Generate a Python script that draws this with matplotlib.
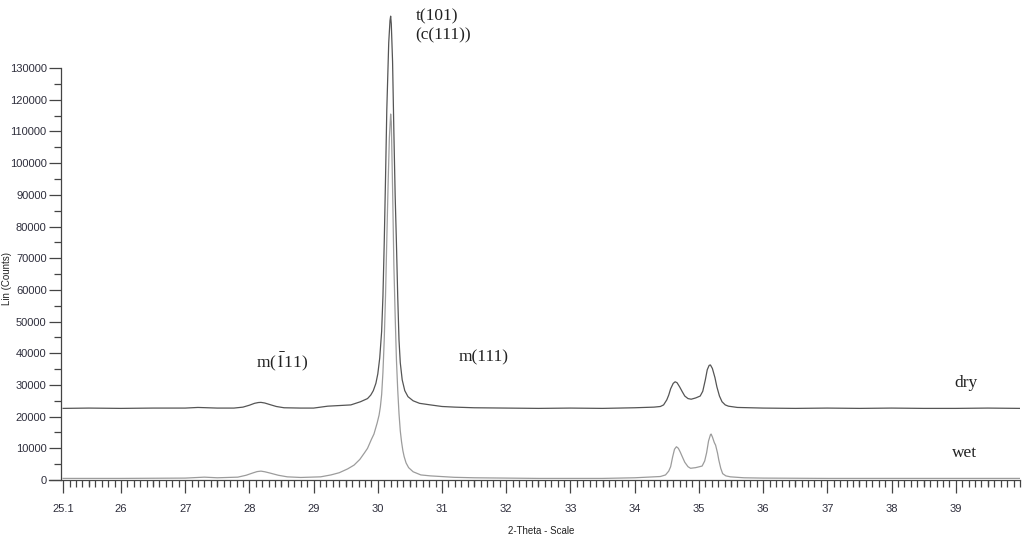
import numpy as np
import matplotlib
matplotlib.use('Agg')
import matplotlib.pyplot as plt
from matplotlib.ticker import FixedLocator

plt.rcParams['font.family'] = ['Liberation Sans', 'DejaVu Sans']
plt.rcParams['mathtext.fontset'] = 'stix'

# 2-theta / counts
two_theta_dry = [25.1, 25.5, 26.0, 26.5, 27.0, 27.2, 27.5, 27.76, 27.9, 28.0, 28.08, 28.14,
                 28.18, 28.24, 28.32, 28.42, 28.54, 28.8, 29.0, 29.22, 29.4, 29.58, 29.73,
                 29.84, 29.89, 29.93, 29.97, 30.00, 30.03, 30.06, 30.08, 30.10, 30.12, 30.14,
                 30.17, 30.19, 30.20, 30.21, 30.23, 30.25, 30.27, 30.29, 30.31, 30.33, 30.35,
                 30.38, 30.42, 30.47, 30.55, 30.65, 30.82, 31.0, 31.2, 31.5, 32.0, 32.5, 33.0,
                 33.5, 34.0, 34.3, 34.40, 34.45, 34.50, 34.53, 34.56, 34.60, 34.63, 34.66,
                 34.70, 34.74, 34.78, 34.83, 34.88, 34.95, 35.02, 35.06, 35.10, 35.13, 35.16,
                 35.18, 35.21, 35.25, 35.28, 35.32, 35.36, 35.41, 35.46, 35.6, 36.0, 36.5,
                 37.0, 37.5, 38.0, 38.5, 39.0, 39.5, 40.0]
counts_dry = [22600, 22700, 22600, 22700, 22700, 22900, 22700, 22700, 23000, 23600, 24200, 24450,
              24500, 24300, 23800, 23200, 22800, 22700, 22700, 23300, 23500, 23700, 24700,
              25700, 26800, 28200, 30500, 33500, 38500, 47000, 58000, 74800, 95000, 116800,
              138000, 145000, 146400, 144000, 132000, 110000, 90000, 74800, 58000, 44200, 37000,
              31600, 28200, 26300, 25000, 24200, 23700, 23200, 23000, 22800, 22700, 22600, 22700,
              22600, 22800, 23000, 23200, 23700, 25300, 26800, 28800, 30500, 31000, 30700,
              29400, 27900, 26500, 25700, 25500, 25900, 26500, 28000, 31600, 34800, 36200,
              36300, 35200, 32300, 29400, 26500, 24700, 23700, 23300, 22900, 22700, 22600,
              22700, 22600, 22700, 22600, 22600, 22700, 22600]

two_theta_wet = [25.1, 26.0, 27.0, 27.3, 27.5, 27.82, 27.95, 28.05, 28.12, 28.18, 28.24, 28.32,
                 28.45, 28.59, 28.8, 29.11, 29.27, 29.4, 29.53, 29.63, 29.72, 29.79, 29.84,
                 29.90, 29.94, 29.99, 30.02, 30.04, 30.06, 30.08, 30.10, 30.12, 30.14, 30.16,
                 30.18, 30.20, 30.21, 30.23, 30.25, 30.27, 30.29, 30.31, 30.33, 30.35, 30.37,
                 30.39, 30.41, 30.44, 30.48, 30.55, 30.67, 30.82, 31.19, 31.5, 32.0, 32.5,
                 33.0, 33.5, 34.0, 34.3, 34.40, 34.48, 34.53, 34.56, 34.59, 34.62, 34.65,
                 34.68, 34.71, 34.74, 34.78, 34.83, 34.87, 34.95, 35.05, 35.09, 35.12, 35.15,
                 35.18, 35.19, 35.21, 35.24, 35.26, 35.29, 35.31, 35.34, 35.37, 35.42, 35.49,
                 35.7, 36.0, 37.0, 38.0, 39.0, 40.0]
counts_wet = [500, 500, 600, 900, 700, 900, 1500, 2200, 2650, 2800, 2600, 2200,
              1500, 1000, 800, 1000, 1600, 2300, 3500, 4700, 6500, 8500, 10000,
              12800, 14500, 18000, 20500, 23100, 27000, 34000, 44200, 58000, 75700, 93000,
              108000, 115500, 113000, 92000, 68000, 52000, 38000, 28500, 21000, 15500, 12000,
              9300, 7400, 5400, 3900, 2600, 1600, 1300, 850, 700, 600, 500,
              500, 500, 700, 1000, 1100, 1600, 2800, 4200, 7200, 9700, 10500,
              10000, 8800, 7400, 5600, 4200, 3700, 3900, 4400, 6000, 8600, 12300,
              14300, 14500, 13600, 11800, 11000, 8500, 6300, 3700, 2000, 1300, 1000,
              700, 600, 500, 500, 500, 500]

y_ticks = list(range(0, 130001, 10000))
x_ticks = [25.1] + list(range(26, 40))
x_ticklabels = ['25.1'] + [str(v) for v in range(26, 40)]

fig = plt.figure(figsize=(10.24, 5.39), dpi=100)
ax = fig.add_axes([49 / 1024, 1 - 480 / 539, 971 / 1024, 480 / 539])

ax.plot(two_theta_dry, counts_dry, color='#555555', lw=0.9)
ax.plot(two_theta_wet, counts_wet, color='#9c9c9c', lw=0.9)

ax.set_xlim(24.88, 40.0)
ax.set_ylim(0, 151500)

for s in ['top', 'right']:
    ax.spines[s].set_visible(False)
ax.spines['left'].set_position(('data', 25.06))
ax.spines['left'].set_bounds(0, 130000)
for s in ['left', 'bottom']:
    ax.spines[s].set_color('#444444')
    ax.spines[s].set_linewidth(0.9)

tick_col = '#2e2e3c'
ax.yaxis.set_major_locator(FixedLocator(y_ticks))
ax.yaxis.set_minor_locator(FixedLocator([v + 5000 for v in y_ticks[:-1]]))
ax.set_yticklabels([str(v) for v in y_ticks])
ax.tick_params(axis='y', which='major', length=9, width=0.9, color='#444444',
               labelsize=8, labelcolor=tick_col, pad=1)
ax.tick_params(axis='y', which='minor', length=5, width=0.9, color='#444444')

ax.xaxis.set_major_locator(FixedLocator(x_ticks))
ax.set_xticklabels(x_ticklabels)
minor_x = [round(25.1 + 0.1 * i, 1) for i in range(150)]
ax.xaxis.set_minor_locator(FixedLocator(minor_x))
ax.tick_params(axis='x', which='major', length=9, width=0.9, color='#444444',
               labelsize=8, labelcolor=tick_col, pad=8)
ax.tick_params(axis='x', which='minor', length=5, width=0.9, color='#444444')
# half-degree ticks a bit longer
ax.vlines(np.arange(25.5, 40, 1.0), 0, -0.0135, transform=ax.get_xaxis_transform(),
          color='#444444', lw=0.9, clip_on=False)

ax.set_xlabel('2-Theta - Scale', fontsize=7, color='#222222')
ax.xaxis.set_label_coords(0.507, -0.095)
ax.set_ylabel('Lin (Counts)', fontsize=7, color='#222222')
ax.yaxis.set_label_coords(-0.038, 0.42)

serif = ['Liberation Serif', 'DejaVu Serif']
fs = 12.5
ax.text(30.59, 146400, 't(101)', fontsize=fs, family=serif, va='center', ha='left', color='#222222')
ax.text(30.59, 140200, '(c(111))', fontsize=fs, family=serif, va='center', ha='left', color='#222222')
ax.text(28.51, 37200, r'm($\bar{1}$11)', fontsize=fs, family=serif, va='center', ha='center', color='#222222')
ax.text(31.65, 38800, 'm(111)', fontsize=fs, family=serif, va='center', ha='center', color='#222222')
ax.text(39.16, 30600, 'dry', fontsize=fs, family=serif, va='center', ha='center', color='#222222')
ax.text(39.14, 8500, 'wet', fontsize=fs, family=serif, va='center', ha='center', color='#222222')

fig.savefig('out.png', dpi=100)
